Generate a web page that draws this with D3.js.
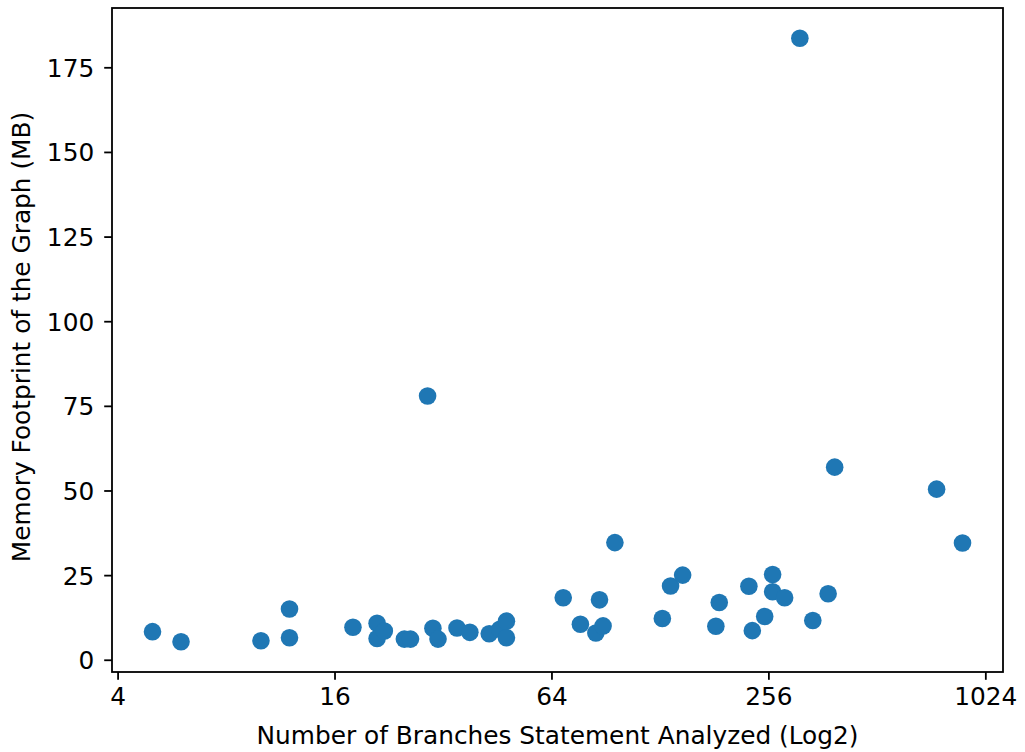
<!DOCTYPE html>
<html lang="en">
  <head>
    <meta charset="utf-8">
    <title>Memory footprint vs branches</title>
    <script src="https://d3js.org/d3.v7.min.js"></script>
    <style>
      body { margin: 0; background: #fff; }
      svg text { font-family: 'DejaVu Sans', sans-serif; fill: #000; }
    </style>
  </head>
  <body>
    <div id="chart"></div>
    <script>
      // values
      var branches = [5, 6, 10, 12, 12, 18, 21, 21, 22, 25, 26, 29, 30, 31, 35, 38, 43, 46, 48, 48,
                      69, 77, 85, 87, 89, 96, 130, 137, 148, 183, 187, 226, 231, 250, 263, 263, 284,
                      313, 340, 375, 391, 750, 885];
      var memory = [8.3, 5.3, 5.6, 15.0, 6.5, 9.6, 10.8, 6.3, 8.5, 6.1, 6.1, 77.9, 9.3, 6.1, 9.4, 8.1, 7.7, 9.0, 11.4, 6.5,
                    18.3, 10.5, 7.9, 17.7, 10.0, 34.6, 12.2, 21.8, 25.0, 9.9, 16.9, 21.7, 8.6, 12.8, 25.2, 20.1, 18.3,
                    183.6, 11.6, 19.5, 56.9, 50.4, 34.5];
      var xTicks = [4, 16, 64, 256, 1024];
      var yTicks = [0, 25, 50, 75, 100, 125, 150, 175];

      var W = 1025, H = 752;
      var m = {left: 112, right: 22, top: 8, bottom: 80};
      var fs = "24.8px";

      var svg = d3.select("#chart").append("svg")
        .attr("width", W)
        .attr("height", H);

      // matplotlib style 5% margins
      var lx = d3.extent(branches, function(d) { return Math.log2(d); });
      var px = (lx[1] - lx[0]) * 0.05;
      var ly = d3.extent(memory);
      var py = (ly[1] - ly[0]) * 0.05;

      var x = d3.scaleLog().base(2)
        .domain([Math.pow(2, lx[0] - px), Math.pow(2, lx[1] + px)])
        .range([m.left, W - m.right]);
      var y = d3.scaleLinear()
        .domain([ly[0] - py, ly[1] + py])
        .range([H - m.bottom, m.top]);

      var xAxis = d3.axisBottom(x).tickValues(xTicks).tickFormat(d3.format("d"))
        .tickSize(7.8).tickPadding(8);
      var yAxis = d3.axisLeft(y).tickValues(yTicks).tickFormat(d3.format("d"))
        .tickSize(7.8).tickPadding(10);

      var gx = svg.append("g").attr("transform", "translate(0," + (H - m.bottom) + ")").call(xAxis);
      var gy = svg.append("g").attr("transform", "translate(" + m.left + ",0)").call(yAxis);
      [gx, gy].forEach(function(g) {
        g.select(".domain").remove();
        g.selectAll(".tick line").attr("stroke", "#000").attr("stroke-width", 1.8);
        g.selectAll("text").style("font-size", fs).attr("fill", "#000");
      });
      gy.selectAll("text").attr("dy", "0.36em");

      svg.append("g").selectAll("circle")
        .data(branches)
        .enter().append("circle")
        .attr("cx", function(d) { return x(d); })
        .attr("cy", function(d, i) { return y(memory[i]); })
        .attr("r", 8.8)
        .attr("fill", "#1f77b4");

      // frame
      svg.append("rect")
        .attr("x", m.left).attr("y", m.top)
        .attr("width", W - m.left - m.right)
        .attr("height", H - m.top - m.bottom)
        .attr("fill", "none")
        .attr("stroke", "#000")
        .attr("stroke-width", 1.8);

      svg.append("text")
        .attr("x", (m.left + W - m.right) / 2)
        .attr("y", 744)
        .attr("text-anchor", "middle")
        .style("font-size", fs)
        .text("Number of Branches Statement Analyzed (Log2)");

      svg.append("text")
        .attr("transform", "translate(30,337) rotate(-90)")
        .attr("text-anchor", "middle")
        .style("font-size", fs)
        .text("Memory Footprint of the Graph (MB)");
    </script>
  </body>
</html>
